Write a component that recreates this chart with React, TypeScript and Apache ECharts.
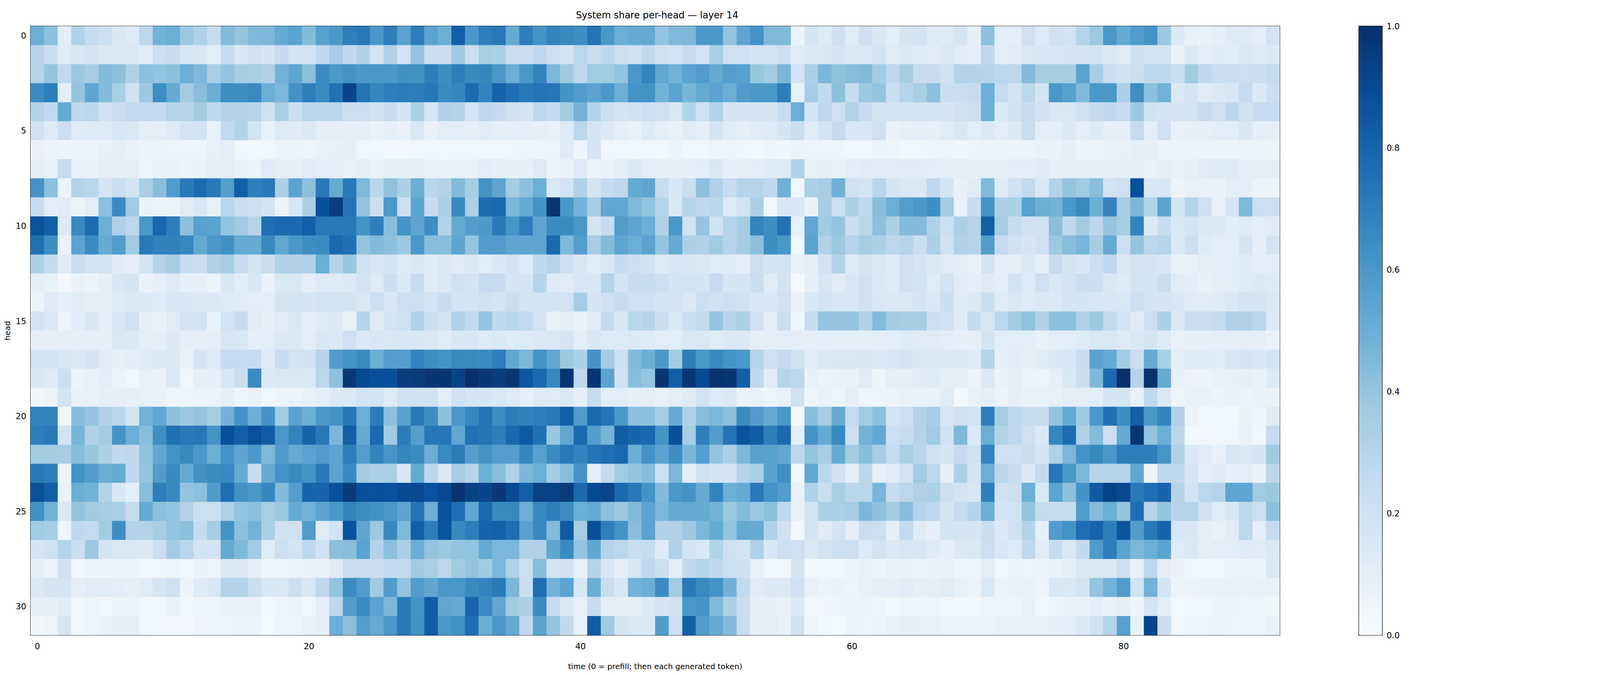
import { useEffect, useRef } from 'react';
import * as echarts from 'echarts';

// time steps 0..91 (0 = prefill), heads 0..31
const TIMES = Array.from({ length: 92 }, (_, i) => String(i));
const HEADS = Array.from({ length: 32 }, (_, i) => String(i));
const X_TICKS = ['0', '20', '40', '60', '80'];
const Y_TICKS = ['0', '5', '10', '15', '20', '25', '30'];
const CBAR_TICKS = [0, 0.2, 0.4, 0.6, 0.8, 1.0];

// system share, one row per head
const shareByHead: number[][] = [
  [0.50,0.42,0.10,0.32,0.25,0.22,0.15,0.13,0.28,0.48,0.50,0.38,0.32,0.24,0.44,0.40,0.45,0.46,0.52,0.55,0.44,0.56,0.60, 0.70,0.72,0.60,0.70,0.55,0.70,0.55,0.50,0.82,0.60,0.70,0.72,0.52,0.70,0.62,0.68,0.66,0.64,0.74,0.60,0.50,0.52,0.52, 0.40,0.45,0.46,0.60,0.60,0.40,0.54,0.62,0.45,0.45,0.06,0.17,0.13,0.21,0.12,0.21,0.15,0.11,0.17,0.18,0.13,0.13,0.17, 0.09,0.42,0.11,0.11,0.20,0.13,0.20,0.19,0.30,0.38,0.60,0.52,0.58,0.62,0.38,0.14,0.08,0.07,0.09,0.13,0.13,0.10,0.19],
  [0.30,0.23,0.12,0.16,0.17,0.14,0.14,0.15,0.12,0.22,0.24,0.16,0.15,0.11,0.24,0.16,0.20,0.17,0.25,0.18,0.19,0.27,0.35, 0.27,0.32,0.18,0.32,0.19,0.40,0.23,0.23,0.37,0.22,0.34,0.33,0.23,0.23,0.27,0.22,0.18,0.28,0.23,0.27,0.22,0.20,0.26, 0.20,0.19,0.24,0.19,0.34,0.21,0.21,0.19,0.18,0.22,0.12,0.14,0.15,0.17,0.15,0.15,0.19,0.12,0.14,0.13,0.12,0.15,0.12, 0.10,0.27,0.11,0.12,0.15,0.16,0.16,0.17,0.17,0.19,0.15,0.12,0.22,0.18,0.19,0.07,0.14,0.10,0.13,0.11,0.15,0.13,0.14],
  [0.30,0.40,0.27,0.38,0.35,0.44,0.42,0.32,0.42,0.40,0.42,0.50,0.45,0.34,0.40,0.35,0.34,0.32,0.48,0.54,0.42,0.65,0.60, 0.62,0.60,0.60,0.60,0.63,0.63,0.70,0.64,0.70,0.66,0.67,0.60,0.50,0.60,0.68,0.46,0.37,0.27,0.37,0.37,0.40,0.60,0.68, 0.53,0.48,0.55,0.58,0.52,0.57,0.56,0.39,0.36,0.46,0.19,0.33,0.46,0.41,0.43,0.44,0.36,0.27,0.35,0.24,0.24,0.20,0.31, 0.31,0.30,0.28,0.27,0.44,0.35,0.35,0.35,0.55,0.34,0.23,0.20,0.22,0.27,0.27,0.23,0.37,0.27,0.23,0.23,0.22,0.23,0.25],
  [0.65,0.70,0.10,0.40,0.54,0.44,0.34,0.20,0.38,0.64,0.52,0.36,0.43,0.50,0.64,0.64,0.66,0.50,0.46,0.62,0.70,0.65,0.75, 0.92,0.74,0.67,0.70,0.71,0.71,0.73,0.65,0.67,0.77,0.68,0.80,0.76,0.72,0.74,0.73,0.62,0.58,0.55,0.60,0.50,0.62,0.62, 0.48,0.55,0.47,0.52,0.55,0.50,0.58,0.60,0.60,0.70,0.08,0.35,0.26,0.42,0.24,0.38,0.40,0.23,0.30,0.34,0.42,0.23,0.23, 0.25,0.50,0.25,0.19,0.28,0.18,0.60,0.56,0.45,0.60,0.60,0.33,0.64,0.42,0.48,0.14,0.17,0.12,0.14,0.16,0.25,0.14,0.22],
  [0.31,0.26,0.52,0.27,0.28,0.20,0.23,0.26,0.26,0.25,0.30,0.30,0.36,0.27,0.31,0.31,0.30,0.21,0.34,0.22,0.29,0.29,0.29, 0.22,0.22,0.20,0.24,0.17,0.33,0.17,0.32,0.31,0.19,0.27,0.25,0.20,0.17,0.27,0.25,0.36,0.48,0.31,0.22,0.19,0.20,0.22, 0.20,0.15,0.31,0.21,0.31,0.17,0.17,0.17,0.17,0.24,0.50,0.17,0.27,0.21,0.31,0.24,0.18,0.18,0.19,0.18,0.18,0.17,0.20, 0.22,0.50,0.15,0.20,0.24,0.20,0.15,0.15,0.20,0.25,0.27,0.24,0.38,0.20,0.18,0.17,0.19,0.24,0.21,0.27,0.20,0.25,0.25],
  [0.20,0.13,0.22,0.12,0.13,0.13,0.16,0.15,0.10,0.10,0.13,0.19,0.19,0.08,0.26,0.31,0.19,0.08,0.13,0.12,0.14,0.10,0.09, 0.09,0.10,0.07,0.09,0.07,0.15,0.07,0.11,0.11,0.10,0.12,0.10,0.11,0.10,0.09,0.08,0.13,0.28,0.17,0.14,0.10,0.08,0.13, 0.10,0.08,0.12,0.10,0.17,0.12,0.10,0.12,0.13,0.17,0.23,0.12,0.18,0.25,0.16,0.16,0.21,0.07,0.09,0.10,0.09,0.12,0.16, 0.11,0.14,0.11,0.14,0.23,0.11,0.11,0.14,0.10,0.13,0.09,0.09,0.25,0.11,0.20,0.08,0.09,0.09,0.11,0.11,0.16,0.10,0.09],
  [0.07,0.06,0.05,0.06,0.06,0.08,0.09,0.07,0.06,0.06,0.05,0.05,0.05,0.08,0.09,0.04,0.03,0.04,0.06,0.06,0.05,0.07,0.08, 0.09,0.04,0.04,0.03,0.03,0.04,0.04,0.03,0.04,0.04,0.04,0.04,0.04,0.05,0.05,0.05,0.13,0.05,0.17,0.04,0.04,0.04,0.04, 0.03,0.06,0.04,0.04,0.05,0.05,0.04,0.03,0.05,0.04,0.06,0.05,0.05,0.05,0.04,0.04,0.06,0.05,0.04,0.04,0.05,0.05,0.04, 0.05,0.06,0.06,0.06,0.06,0.07,0.07,0.09,0.06,0.06,0.07,0.08,0.09,0.09,0.06,0.06,0.06,0.06,0.06,0.06,0.06,0.06,0.06],
  [0.09,0.08,0.24,0.07,0.07,0.09,0.10,0.10,0.05,0.08,0.07,0.06,0.07,0.10,0.10,0.07,0.06,0.12,0.10,0.09,0.12,0.11,0.10, 0.08,0.10,0.07,0.09,0.09,0.10,0.07,0.07,0.08,0.08,0.11,0.09,0.08,0.09,0.13,0.06,0.07,0.13,0.06,0.07,0.10,0.14,0.11, 0.10,0.09,0.09,0.11,0.15,0.09,0.09,0.11,0.13,0.13,0.32,0.08,0.09,0.08,0.11,0.12,0.12,0.12,0.12,0.12,0.11,0.10,0.10, 0.09,0.10,0.10,0.11,0.11,0.13,0.09,0.10,0.10,0.10,0.09,0.09,0.10,0.07,0.09,0.08,0.10,0.12,0.13,0.13,0.10,0.10,0.10],
  [0.62,0.42,0.06,0.31,0.29,0.17,0.23,0.18,0.34,0.43,0.58,0.72,0.77,0.72,0.57,0.82,0.70,0.72,0.33,0.55,0.42,0.72,0.52, 0.72,0.45,0.29,0.41,0.33,0.50,0.29,0.31,0.44,0.35,0.62,0.54,0.35,0.42,0.50,0.15,0.19,0.32,0.17,0.25,0.27,0.52,0.54, 0.24,0.16,0.23,0.42,0.32,0.24,0.30,0.30,0.27,0.49,0.04,0.33,0.35,0.49,0.20,0.18,0.29,0.17,0.15,0.15,0.27,0.18,0.08, 0.12,0.45,0.12,0.20,0.26,0.15,0.31,0.40,0.37,0.43,0.19,0.21,0.88,0.16,0.16,0.06,0.08,0.08,0.07,0.11,0.10,0.06,0.06],
  [0.24,0.11,0.12,0.06,0.11,0.42,0.65,0.37,0.07,0.06,0.06,0.12,0.16,0.08,0.29,0.23,0.22,0.19,0.06,0.16,0.33,0.88,0.95, 0.74,0.40,0.22,0.60,0.22,0.55,0.24,0.33,0.66,0.33,0.77,0.78,0.46,0.52,0.62,0.98,0.60,0.48,0.35,0.53,0.53,0.45,0.40, 0.30,0.15,0.30,0.27,0.29,0.13,0.19,0.33,0.03,0.16,0.16,0.07,0.35,0.22,0.33,0.27,0.43,0.50,0.57,0.60,0.64,0.36,0.07, 0.24,0.62,0.33,0.33,0.56,0.50,0.48,0.60,0.66,0.50,0.68,0.35,0.46,0.31,0.55,0.17,0.31,0.21,0.08,0.17,0.45,0.22,0.22],
  [0.87,0.82,0.13,0.66,0.77,0.50,0.32,0.28,0.60,0.79,0.70,0.42,0.56,0.55,0.40,0.37,0.30,0.76,0.78,0.78,0.82,0.72,0.72, 0.72,0.62,0.70,0.43,0.62,0.54,0.64,0.31,0.52,0.57,0.59,0.72,0.61,0.70,0.54,0.65,0.65,0.60,0.18,0.25,0.58,0.54,0.50, 0.32,0.60,0.20,0.40,0.20,0.30,0.35,0.68,0.64,0.75,0.08,0.53,0.37,0.40,0.23,0.29,0.42,0.33,0.44,0.44,0.32,0.22,0.33, 0.30,0.82,0.35,0.24,0.20,0.21,0.43,0.27,0.36,0.28,0.40,0.35,0.68,0.14,0.24,0.15,0.18,0.14,0.14,0.11,0.13,0.11,0.12],
  [0.75,0.64,0.07,0.55,0.65,0.52,0.58,0.37,0.72,0.69,0.69,0.67,0.52,0.60,0.63,0.52,0.52,0.66,0.53,0.60,0.64,0.65,0.78, 0.75,0.40,0.44,0.42,0.38,0.60,0.43,0.43,0.54,0.40,0.58,0.58,0.54,0.54,0.54,0.78,0.45,0.57,0.35,0.44,0.54,0.50,0.55, 0.40,0.52,0.33,0.32,0.37,0.30,0.35,0.42,0.64,0.60,0.04,0.55,0.32,0.38,0.30,0.35,0.33,0.28,0.30,0.23,0.33,0.20,0.32, 0.30,0.58,0.25,0.20,0.17,0.21,0.38,0.43,0.47,0.35,0.52,0.22,0.40,0.28,0.30,0.14,0.22,0.13,0.11,0.11,0.17,0.10,0.18],
  [0.33,0.25,0.12,0.23,0.19,0.19,0.12,0.10,0.18,0.31,0.35,0.24,0.23,0.32,0.35,0.24,0.18,0.23,0.32,0.32,0.32,0.50,0.31, 0.39,0.20,0.16,0.18,0.13,0.15,0.12,0.14,0.12,0.14,0.11,0.15,0.19,0.13,0.27,0.30,0.21,0.16,0.12,0.15,0.25,0.22,0.20, 0.13,0.16,0.16,0.15,0.12,0.13,0.09,0.22,0.18,0.19,0.08,0.10,0.19,0.31,0.13,0.17,0.15,0.13,0.21,0.17,0.15,0.12,0.11, 0.08,0.18,0.10,0.10,0.14,0.09,0.24,0.18,0.16,0.22,0.27,0.15,0.17,0.17,0.16,0.08,0.08,0.10,0.11,0.11,0.13,0.11,0.11],
  [0.09,0.08,0.03,0.07,0.06,0.09,0.16,0.17,0.07,0.09,0.13,0.09,0.09,0.06,0.16,0.11,0.16,0.07,0.15,0.15,0.09,0.13,0.12, 0.14,0.19,0.13,0.22,0.15,0.24,0.12,0.15,0.20,0.18,0.25,0.24,0.18,0.17,0.30,0.13,0.12,0.16,0.16,0.30,0.19,0.24,0.24, 0.22,0.18,0.19,0.18,0.25,0.17,0.18,0.23,0.12,0.19,0.02,0.09,0.16,0.12,0.16,0.20,0.14,0.13,0.21,0.18,0.12,0.19,0.12, 0.10,0.13,0.11,0.18,0.13,0.21,0.15,0.19,0.23,0.22,0.15,0.13,0.18,0.18,0.23,0.12,0.11,0.08,0.10,0.11,0.13,0.14,0.13],
  [0.06,0.13,0.09,0.12,0.10,0.10,0.13,0.14,0.14,0.13,0.16,0.16,0.14,0.14,0.13,0.12,0.11,0.11,0.18,0.18,0.17,0.19,0.19, 0.18,0.15,0.22,0.16,0.22,0.22,0.19,0.24,0.19,0.19,0.20,0.18,0.23,0.18,0.19,0.19,0.19,0.35,0.17,0.21,0.24,0.21,0.21, 0.18,0.19,0.14,0.22,0.20,0.22,0.20,0.16,0.16,0.20,0.07,0.16,0.18,0.16,0.16,0.20,0.15,0.14,0.15,0.17,0.15,0.23,0.12, 0.14,0.23,0.12,0.15,0.13,0.14,0.14,0.18,0.18,0.16,0.16,0.15,0.22,0.17,0.17,0.16,0.12,0.12,0.13,0.15,0.18,0.17,0.15],
  [0.19,0.14,0.06,0.12,0.16,0.10,0.16,0.20,0.09,0.07,0.12,0.19,0.18,0.07,0.19,0.24,0.12,0.09,0.12,0.15,0.10,0.13,0.14, 0.08,0.30,0.12,0.19,0.21,0.32,0.22,0.18,0.32,0.26,0.40,0.27,0.29,0.26,0.19,0.08,0.10,0.07,0.12,0.25,0.16,0.29,0.30, 0.23,0.15,0.23,0.26,0.40,0.30,0.33,0.20,0.10,0.23,0.05,0.24,0.40,0.40,0.40,0.32,0.44,0.36,0.35,0.35,0.22,0.20,0.12, 0.25,0.16,0.28,0.36,0.41,0.32,0.42,0.42,0.32,0.38,0.26,0.19,0.12,0.22,0.33,0.14,0.23,0.23,0.25,0.32,0.32,0.29,0.13],
  [0.09,0.09,0.10,0.10,0.10,0.10,0.15,0.14,0.10,0.10,0.14,0.10,0.10,0.10,0.16,0.15,0.10,0.11,0.14,0.14,0.11,0.16,0.14, 0.21,0.14,0.16,0.15,0.16,0.16,0.15,0.12,0.16,0.16,0.13,0.15,0.13,0.13,0.14,0.15,0.17,0.10,0.16,0.13,0.13,0.14,0.13, 0.11,0.11,0.15,0.15,0.12,0.14,0.14,0.10,0.10,0.11,0.10,0.10,0.11,0.10,0.10,0.10,0.10,0.11,0.13,0.12,0.12,0.11,0.09, 0.09,0.18,0.11,0.11,0.11,0.08,0.11,0.11,0.13,0.15,0.15,0.13,0.15,0.18,0.13,0.08,0.09,0.09,0.10,0.10,0.10,0.10,0.07],
  [0.18,0.18,0.16,0.14,0.17,0.12,0.09,0.11,0.13,0.14,0.14,0.08,0.17,0.13,0.25,0.25,0.25,0.13,0.24,0.19,0.20,0.30,0.58, 0.62,0.65,0.50,0.57,0.57,0.68,0.64,0.62,0.66,0.65,0.65,0.70,0.53,0.46,0.62,0.53,0.38,0.33,0.62,0.35,0.22,0.44,0.50, 0.60,0.37,0.70,0.60,0.66,0.62,0.60,0.30,0.21,0.25,0.20,0.12,0.14,0.15,0.15,0.16,0.14,0.16,0.17,0.15,0.14,0.14,0.14, 0.13,0.30,0.09,0.12,0.10,0.12,0.15,0.16,0.24,0.55,0.52,0.36,0.23,0.52,0.34,0.10,0.13,0.13,0.12,0.16,0.18,0.16,0.18],
  [0.15,0.13,0.22,0.06,0.08,0.11,0.06,0.04,0.08,0.07,0.14,0.04,0.09,0.09,0.16,0.23,0.65,0.14,0.15,0.15,0.14,0.28,0.42, 0.97,0.90,0.88,0.88,0.95,0.96,0.98,0.98,0.93,1.00,0.97,0.95,0.98,0.85,0.78,0.66,0.98,0.27,0.98,0.55,0.20,0.43,0.40, 0.98,0.82,0.98,0.90,0.99,0.98,0.82,0.27,0.12,0.30,0.28,0.08,0.06,0.07,0.08,0.12,0.05,0.10,0.10,0.12,0.13,0.09,0.09, 0.06,0.14,0.07,0.09,0.06,0.05,0.09,0.15,0.23,0.45,0.78,1.00,0.30,1.00,0.52,0.08,0.06,0.06,0.07,0.08,0.09,0.08,0.13],
  [0.04,0.06,0.18,0.07,0.08,0.09,0.09,0.09,0.08,0.07,0.05,0.05,0.06,0.06,0.09,0.05,0.07,0.04,0.06,0.06,0.08,0.10,0.14, 0.14,0.18,0.19,0.13,0.20,0.20,0.20,0.11,0.20,0.17,0.17,0.15,0.13,0.09,0.13,0.12,0.14,0.09,0.24,0.11,0.11,0.09,0.09, 0.08,0.10,0.12,0.19,0.13,0.14,0.07,0.07,0.05,0.07,0.20,0.05,0.07,0.05,0.09,0.05,0.05,0.06,0.07,0.08,0.08,0.12,0.03, 0.07,0.09,0.06,0.09,0.08,0.08,0.08,0.10,0.10,0.11,0.17,0.17,0.08,0.27,0.14,0.05,0.07,0.07,0.06,0.07,0.06,0.07,0.07],
  [0.68,0.68,0.03,0.43,0.40,0.32,0.29,0.18,0.48,0.53,0.42,0.38,0.40,0.35,0.48,0.62,0.50,0.62,0.36,0.55,0.50,0.60,0.62, 0.73,0.50,0.71,0.42,0.56,0.72,0.64,0.42,0.60,0.67,0.74,0.64,0.71,0.69,0.70,0.72,0.82,0.58,0.78,0.74,0.60,0.42,0.42, 0.35,0.52,0.32,0.43,0.46,0.42,0.65,0.58,0.52,0.60,0.02,0.43,0.35,0.52,0.25,0.37,0.42,0.19,0.22,0.31,0.35,0.16,0.21, 0.19,0.70,0.35,0.27,0.24,0.24,0.40,0.52,0.37,0.60,0.75,0.64,0.82,0.60,0.68,0.32,0.06,0.03,0.04,0.03,0.07,0.05,0.12],
  [0.70,0.72,0.19,0.47,0.32,0.36,0.62,0.50,0.43,0.64,0.75,0.72,0.73,0.62,0.88,0.82,0.88,0.83,0.60,0.68,0.80,0.72,0.46, 0.82,0.52,0.78,0.36,0.71,0.57,0.73,0.73,0.53,0.75,0.74,0.70,0.79,0.84,0.75,0.39,0.53,0.78,0.57,0.47,0.83,0.80,0.79, 0.62,0.88,0.35,0.70,0.58,0.74,0.86,0.83,0.70,0.78,0.09,0.62,0.52,0.66,0.22,0.48,0.53,0.22,0.24,0.30,0.37,0.20,0.45, 0.14,0.50,0.31,0.27,0.21,0.14,0.67,0.77,0.32,0.44,0.22,0.52,0.98,0.40,0.50,0.29,0.03,0.04,0.04,0.04,0.08,0.04,0.25],
  [0.36,0.36,0.35,0.43,0.39,0.33,0.26,0.27,0.41,0.53,0.62,0.66,0.60,0.50,0.62,0.54,0.59,0.45,0.58,0.52,0.55,0.58,0.55, 0.70,0.57,0.68,0.61,0.67,0.65,0.50,0.65,0.71,0.57,0.62,0.57,0.57,0.67,0.56,0.65,0.72,0.68,0.74,0.76,0.78,0.50,0.62, 0.55,0.64,0.46,0.57,0.40,0.33,0.45,0.56,0.56,0.53,0.28,0.40,0.35,0.52,0.36,0.43,0.35,0.25,0.34,0.29,0.20,0.18,0.25, 0.20,0.68,0.21,0.21,0.23,0.17,0.32,0.46,0.62,0.66,0.60,0.70,0.70,0.70,0.61,0.32,0.14,0.12,0.08,0.16,0.14,0.17,0.37],
  [0.72,0.70,0.06,0.62,0.58,0.50,0.52,0.27,0.40,0.58,0.66,0.52,0.63,0.65,0.66,0.52,0.24,0.52,0.62,0.66,0.62,0.72,0.55, 0.66,0.36,0.33,0.34,0.16,0.52,0.28,0.15,0.35,0.30,0.50,0.43,0.32,0.46,0.50,0.36,0.43,0.62,0.10,0.25,0.37,0.40,0.43, 0.22,0.46,0.10,0.21,0.18,0.17,0.30,0.34,0.56,0.64,0.03,0.53,0.28,0.20,0.10,0.28,0.10,0.12,0.19,0.37,0.28,0.10,0.33, 0.17,0.50,0.29,0.24,0.14,0.26,0.73,0.60,0.46,0.30,0.30,0.30,0.53,0.06,0.27,0.27,0.17,0.11,0.13,0.10,0.11,0.07,0.28],
  [0.88,0.82,0.07,0.50,0.48,0.31,0.16,0.10,0.43,0.70,0.66,0.40,0.42,0.58,0.76,0.63,0.60,0.67,0.44,0.57,0.80,0.80,0.88, 0.96,0.88,0.88,0.87,0.90,0.90,0.87,0.90,0.99,0.93,0.92,0.97,0.90,0.82,0.93,0.93,0.96,0.78,0.90,0.92,0.78,0.72,0.62, 0.44,0.60,0.62,0.52,0.68,0.50,0.52,0.72,0.62,0.58,0.07,0.32,0.23,0.34,0.29,0.29,0.47,0.25,0.28,0.32,0.33,0.22,0.19, 0.16,0.70,0.20,0.22,0.50,0.14,0.55,0.42,0.62,0.84,0.93,0.90,0.72,0.76,0.80,0.30,0.19,0.28,0.30,0.54,0.54,0.37,0.38],
  [0.63,0.48,0.14,0.40,0.37,0.35,0.34,0.24,0.52,0.42,0.40,0.31,0.22,0.22,0.32,0.40,0.42,0.34,0.38,0.52,0.48,0.55,0.60, 0.68,0.64,0.63,0.60,0.54,0.74,0.50,0.87,0.76,0.53,0.78,0.66,0.66,0.50,0.66,0.70,0.64,0.50,0.52,0.42,0.38,0.45,0.55, 0.46,0.52,0.52,0.52,0.48,0.38,0.44,0.38,0.42,0.27,0.08,0.19,0.33,0.34,0.35,0.46,0.42,0.36,0.43,0.30,0.27,0.18,0.24, 0.30,0.50,0.18,0.19,0.40,0.25,0.24,0.24,0.58,0.44,0.50,0.40,0.76,0.30,0.40,0.30,0.30,0.20,0.12,0.16,0.28,0.22,0.42],
  [0.37,0.35,0.05,0.27,0.25,0.36,0.64,0.31,0.31,0.35,0.40,0.42,0.25,0.35,0.62,0.42,0.48,0.33,0.20,0.20,0.58,0.12,0.19, 0.87,0.54,0.38,0.66,0.45,0.82,0.70,0.86,0.66,0.70,0.80,0.81,0.76,0.56,0.66,0.44,0.84,0.35,0.88,0.70,0.62,0.43,0.55, 0.32,0.32,0.38,0.46,0.52,0.40,0.52,0.52,0.32,0.20,0.03,0.18,0.12,0.19,0.09,0.23,0.22,0.09,0.26,0.12,0.09,0.18,0.17, 0.17,0.23,0.14,0.20,0.31,0.09,0.58,0.62,0.76,0.80,0.70,0.85,0.58,0.72,0.80,0.16,0.15,0.10,0.08,0.12,0.28,0.10,0.25],
  [0.17,0.20,0.31,0.23,0.38,0.18,0.15,0.15,0.14,0.23,0.36,0.29,0.18,0.18,0.52,0.45,0.37,0.12,0.22,0.18,0.27,0.20,0.42, 0.43,0.55,0.31,0.42,0.33,0.50,0.40,0.38,0.40,0.40,0.52,0.46,0.46,0.32,0.32,0.53,0.65,0.40,0.53,0.30,0.28,0.23,0.24, 0.13,0.32,0.19,0.15,0.31,0.21,0.18,0.32,0.16,0.22,0.21,0.15,0.18,0.22,0.22,0.13,0.19,0.14,0.16,0.16,0.13,0.09,0.14, 0.15,0.22,0.16,0.13,0.27,0.12,0.24,0.15,0.26,0.58,0.70,0.55,0.46,0.50,0.55,0.12,0.15,0.10,0.11,0.11,0.13,0.12,0.14],
  [0.09,0.06,0.20,0.04,0.06,0.06,0.06,0.06,0.04,0.04,0.05,0.03,0.07,0.05,0.14,0.14,0.09,0.05,0.05,0.06,0.07,0.08,0.12, 0.23,0.23,0.23,0.26,0.26,0.37,0.34,0.28,0.37,0.40,0.37,0.46,0.32,0.22,0.43,0.18,0.20,0.08,0.30,0.16,0.10,0.16,0.27, 0.22,0.10,0.26,0.30,0.27,0.22,0.21,0.08,0.04,0.04,0.18,0.04,0.04,0.04,0.06,0.08,0.05,0.07,0.07,0.06,0.07,0.08,0.05, 0.05,0.10,0.04,0.06,0.05,0.06,0.07,0.09,0.15,0.15,0.15,0.22,0.08,0.28,0.10,0.07,0.04,0.03,0.04,0.06,0.06,0.06,0.15],
  [0.14,0.17,0.17,0.09,0.12,0.12,0.11,0.09,0.12,0.17,0.21,0.06,0.13,0.16,0.31,0.31,0.23,0.16,0.15,0.22,0.16,0.27,0.40, 0.65,0.58,0.37,0.58,0.40,0.58,0.53,0.60,0.60,0.65,0.68,0.72,0.46,0.23,0.76,0.48,0.55,0.16,0.50,0.23,0.16,0.48,0.50, 0.65,0.37,0.72,0.66,0.62,0.48,0.26,0.12,0.14,0.14,0.21,0.08,0.06,0.07,0.05,0.08,0.09,0.09,0.12,0.09,0.10,0.12,0.08, 0.06,0.15,0.06,0.07,0.07,0.05,0.16,0.15,0.18,0.40,0.48,0.58,0.19,0.48,0.17,0.06,0.06,0.07,0.07,0.07,0.07,0.08,0.08],
  [0.09,0.09,0.12,0.04,0.05,0.04,0.06,0.06,0.03,0.04,0.07,0.04,0.05,0.05,0.08,0.07,0.07,0.03,0.05,0.06,0.04,0.10,0.27, 0.58,0.65,0.55,0.46,0.72,0.62,0.83,0.53,0.52,0.80,0.65,0.53,0.37,0.33,0.65,0.24,0.14,0.08,0.24,0.10,0.10,0.10,0.14, 0.17,0.20,0.60,0.62,0.45,0.33,0.23,0.09,0.09,0.07,0.14,0.04,0.04,0.05,0.06,0.06,0.05,0.03,0.05,0.05,0.05,0.04,0.03, 0.04,0.05,0.05,0.05,0.08,0.04,0.05,0.07,0.07,0.11,0.07,0.09,0.05,0.18,0.10,0.02,0.04,0.04,0.06,0.06,0.05,0.05,0.04],
  [0.04,0.05,0.17,0.04,0.05,0.07,0.10,0.10,0.04,0.03,0.03,0.03,0.05,0.05,0.05,0.06,0.06,0.02,0.05,0.05,0.07,0.09,0.50, 0.42,0.57,0.52,0.60,0.72,0.63,0.83,0.60,0.63,0.76,0.50,0.60,0.52,0.27,0.55,0.40,0.26,0.08,0.83,0.37,0.17,0.15,0.15, 0.58,0.22,0.82,0.58,0.52,0.44,0.24,0.10,0.11,0.08,0.20,0.05,0.03,0.02,0.06,0.05,0.06,0.08,0.09,0.08,0.08,0.06,0.06, 0.06,0.06,0.07,0.07,0.07,0.08,0.09,0.11,0.14,0.20,0.30,0.56,0.07,0.92,0.23,0.04,0.05,0.05,0.06,0.05,0.05,0.05,0.07],
];

const BLUES = ['#f7fbff', '#deebf7', '#c6dbef', '#9ecae1', '#6baed6', '#4292c6', '#2171b5', '#08519c', '#08306b'];
const FONT = 'DejaVu Sans';
// layout is designed for a 5795x1728 page and scaled to the actual viewport
const BASE_W = 5795;
const BASE_H = 1728;

export default function App() {
  const chartRef = useRef<HTMLDivElement>(null);

  useEffect(() => {
    if (!chartRef.current) return;
    const chart = echarts.init(chartRef.current, null, { renderer: 'svg' });
    const sx = chartRef.current.clientWidth / BASE_W;
    const sy = chartRef.current.clientHeight / BASE_H;
    const s = Math.min(sx, sy);
    const X = (v: number) => v * sx;
    const Y = (v: number) => v * sy;
    const F = (v: number) => v * s;

    const cells: [number, number, number][] = [];
    shareByHead.forEach((row, h) => row.forEach((v, t) => cells.push([t, h, v])));

    const tickLine = { color: '#000', width: F(3) };

    const option: echarts.EChartsOption = {
      animation: false,
      backgroundColor: '#fff',
      textStyle: { fontFamily: FONT },
      title: {
        text: 'System share per-head — layer 14',
        left: X(2373),
        top: Y(22),
        textAlign: 'center',
        textStyle: { fontFamily: FONT, fontSize: F(34), fontWeight: 'normal', color: '#000' },
      },
      grid: [
        { left: X(111), right: X(1160), top: Y(67), bottom: Y(102), show: true, borderColor: '#000', borderWidth: F(3), backgroundColor: 'transparent' },
        { left: X(4922), width: X(84), top: Y(67), bottom: Y(102), show: true, borderColor: '#000', borderWidth: F(3), backgroundColor: 'transparent' },
      ],
      xAxis: [
        {
          type: 'category',
          gridIndex: 0,
          data: TIMES,
          name: 'time (0 = prefill; then each generated token)',
          nameLocation: 'middle',
          nameGap: Y(70),
          nameTextStyle: { fontFamily: FONT, fontSize: F(28), color: '#000' },
          axisLine: { show: true, lineStyle: tickLine },
          axisTick: {
            alignWithLabel: true,
            length: Y(13),
            lineStyle: tickLine,
            interval: (i: number) => X_TICKS.includes(TIMES[i]),
          },
          axisLabel: {
            fontFamily: FONT,
            fontSize: F(30),
            color: '#000',
            margin: Y(18),
            interval: (i: number) => X_TICKS.includes(TIMES[i]),
          },
          splitLine: { show: false },
        },
        { type: 'value', gridIndex: 1, show: false, min: 0, max: 1 },
      ],
      yAxis: [
        {
          type: 'category',
          gridIndex: 0,
          data: HEADS,
          inverse: true,
          name: 'head',
          nameLocation: 'middle',
          nameGap: X(62),
          nameRotate: 90,
          nameTextStyle: { fontFamily: FONT, fontSize: F(28), color: '#000' },
          axisLine: { show: true, lineStyle: tickLine },
          axisTick: {
            alignWithLabel: true,
            length: X(13),
            lineStyle: tickLine,
            interval: (i: number) => Y_TICKS.includes(HEADS[i]),
          },
          axisLabel: {
            fontFamily: FONT,
            fontSize: F(30),
            color: '#000',
            margin: X(16),
            interval: (i: number) => Y_TICKS.includes(HEADS[i]),
          },
          splitLine: { show: false },
        },
        {
          type: 'value',
          gridIndex: 1,
          position: 'right',
          min: 0,
          max: 1,
          interval: 0.2,
          axisLine: { show: true, lineStyle: tickLine },
          axisTick: { show: true, length: X(13), lineStyle: tickLine },
          axisLabel: {
            fontFamily: FONT,
            fontSize: F(30),
            color: '#000',
            margin: X(16),
            formatter: (v: number) => (CBAR_TICKS.includes(Math.round(v * 10) / 10) ? v.toFixed(1) : ''),
          },
          splitLine: { show: false },
        },
      ],
      visualMap: {
        type: 'continuous',
        seriesIndex: 0,
        dimension: 2,
        min: 0,
        max: 1,
        calculable: false,
        show: true,
        left: X(4922),
        top: Y(67),
        itemWidth: X(84),
        itemHeight: Y(1559),
        padding: 0,
        text: ['', ''],
        showLabel: false,
        hoverLink: false,
        inRange: { color: BLUES },
      },
      series: [
        {
          type: 'heatmap',
          xAxisIndex: 0,
          yAxisIndex: 0,
          data: cells,
          itemStyle: { borderWidth: 0 },
          emphasis: { disabled: true },
        },
      ],
    };

    chart.setOption(option);
    return () => chart.dispose();
  }, []);

  return (
    <div
      ref={chartRef}
      style={{ position: 'fixed', left: 0, top: 0, width: '100vw', height: '100vh' }}
    />
  );
}
